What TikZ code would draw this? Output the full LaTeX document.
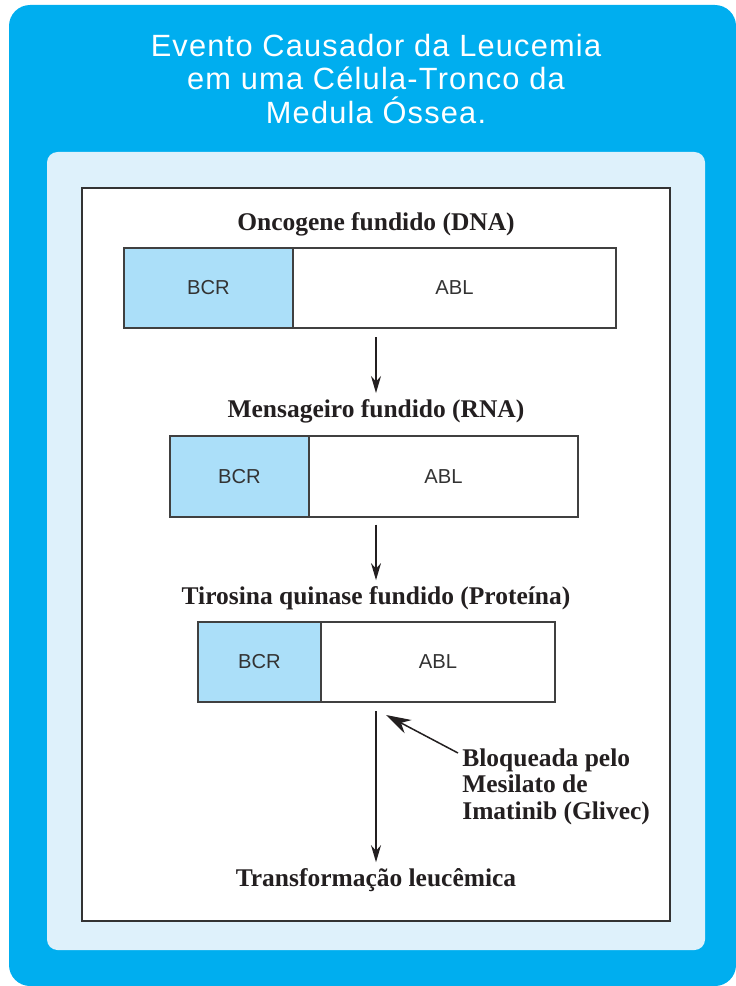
\documentclass[tikz,border=0pt]{standalone}
\usepackage{fontspec}
\setmainfont{Liberation Serif}
\setsansfont{Liberation Sans}
\newfontfamily\headfont[LetterSpace=4]{Liberation Sans}
\usetikzlibrary{arrows.meta}
\definecolor{capa}{RGB}{0,174,239}
\definecolor{painel}{RGB}{222,241,251}
\definecolor{bcrazul}{RGB}{171,223,249}
\definecolor{tinta}{RGB}{35,31,32}

\tikzset{
  gene/.style={draw=black!75, line width=0.8pt, inner sep=0pt, minimum height=1.6cm,
    font=\sffamily\fontsize{11.5}{13}\selectfont, text=black!80},
  rotulo/.style={font=\bfseries\fontsize{14.5}{15.2}\selectfont, text=tinta},
  seta/.style={->, line width=0.85pt, draw=tinta},
}

\begin{document}
\begin{tikzpicture}[>={Stealth[length=3.4mm,width=2mm]}, x=0.02cm, y=-0.02cm]
  \useasboundingbox (0,0) rectangle (736,986);
  \fill[capa, rounded corners=12pt] (9,5) rectangle (736,986);
  \fill[painel, rounded corners=6pt] (47,152) rectangle (705,950);
  \draw[fill=white, draw=black!80, line width=0.7pt] (82,188) rectangle (670,921);

  \node[text=white, align=center, font=\headfont\fontsize{17.5}{18.8}\selectfont] (T) at (376,79)
    {Evento Causador da Leucemia\\em uma Célula-Tronco da\\Medula Óssea.};

  % DNA
  \node[rotulo] (L1) at (376,224) {Oncogene fundido (DNA)};
  \node[gene, fill=bcrazul, minimum width=3.38cm] (B1) at (208.5,288) {BCR};
  \node[gene, minimum width=6.46cm] (A1) at (454.5,288) {ABL};

  % RNA
  \node[rotulo] (L2) at (376,411) {Mensageiro fundido (RNA)};
  \node[gene, fill=bcrazul, minimum width=2.78cm, minimum height=1.62cm] (B2) at (239.5,476.5) {BCR};
  \node[gene, minimum width=5.38cm, minimum height=1.62cm] (A2) at (443.5,476.5) {ABL};

  % proteina
  \node[rotulo] (L3) at (376,598) {Tirosina quinase fundido (Proteína)};
  \node[gene, fill=bcrazul, minimum width=2.46cm] (B3) at (259.5,662) {BCR};
  \node[gene, minimum width=4.68cm] (A3) at (438,662) {ABL};

  \node[rotulo] (L4) at (376,880) {Transformação leucêmica};
  \node[rotulo, align=left, anchor=north west, inner sep=0pt] (G) at (462,748)
    {Bloqueada pelo\\Mesilato de\\Imatinib (Glivec)};
  \coordinate (P) at (386,715);

  \draw[seta, shorten <=5pt] (L2 |- A1.south) -- (L2.north);
  \draw[seta, shorten <=4pt] (L3 |- A2.south) -- (L3.north);
  \draw[seta, shorten <=5pt] (L4 |- A3.south) -- (L4.north);
  \draw[seta, >={Stealth[length=5mm,width=3mm]}] ([shift={(-4,5)}]G.north west) -- (P);
\end{tikzpicture}
\end{document}
